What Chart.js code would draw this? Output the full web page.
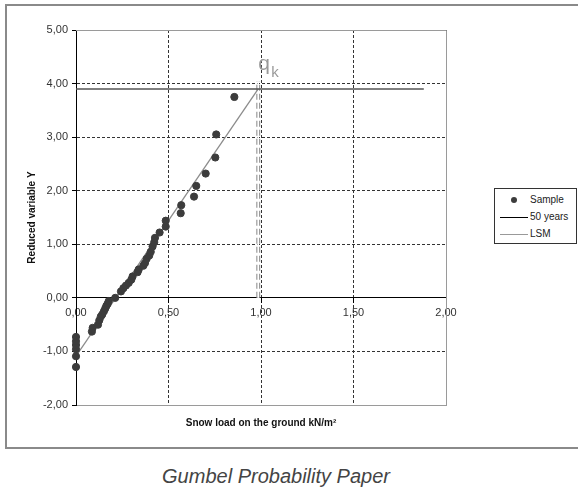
<!DOCTYPE html>
<html>
<head>
<meta charset="utf-8">
<script src="https://cdn.jsdelivr.net/npm/chart.js@4.4.1/dist/chart.umd.min.js"></script>
<style>
  body { margin: 0; background: #fff; font-family: "Liberation Sans", Arial, sans-serif; }
  #frame { position: absolute; left: 5px; top: 4px; width: 590px; height: 445px; border: 2px solid #8a8a8a; box-sizing: border-box; }
  #wrap { position: absolute; left: 0; top: 0; width: 578px; height: 450px; }
  #legend { position: absolute; left: 494px; top: 188px; width: 83px; height: 56px; border: 1px solid #333; box-sizing: border-box; background: #fff; font-size: 10px; color: #222; }
  .item { position: absolute; left: 0; height: 14px; line-height: 14px; }
  .item span.t { position: absolute; left: 35px; white-space: nowrap; }
  .dot { position: absolute; left: 16px; top: 4px; width: 6px; height: 6px; border-radius: 50%; background: #3c3c3c; }
  .ln { position: absolute; left: 5px; top: 7px; width: 28px; height: 0; border-top: 1px solid #000; }
  #caption { position: absolute; left: 0; top: 466px; width: 552px; text-align: center; font-style: italic; font-size: 20px; line-height: 20px; color: #444; }
</style>
</head>
<body>
<div id="frame"></div>
<div id="wrap"><canvas id="grafico" width="578" height="450"></canvas></div>
<div id="legend">
  <div class="item" style="top:4px"><div class="dot"></div><span class="t">Sample</span></div>
  <div class="item" style="top:21px"><div class="ln"></div><span class="t">50 years</span></div>
  <div class="item" style="top:38px"><div class="ln" style="border-top-color:#999"></div><span class="t">LSM</span></div>
</div>
<div id="caption">Gumbel Probability Paper</div>
<script>
// sample points
const sampleX = [0, 0, 0, 0, 0, 0,
  0.086, 0.090, 0.119, 0.126, 0.134, 0.142, 0.151, 0.158, 0.164, 0.171, 0.177,
  0.212, 0.243, 0.256, 0.270, 0.285, 0.299, 0.306, 0.333, 0.339, 0.364, 0.373,
  0.382, 0.396, 0.404, 0.414, 0.423, 0.427, 0.452, 0.485, 0.485, 0.566, 0.569,
  0.638, 0.650, 0.701, 0.753, 0.758, 0.856];
const sampleY = [-1.29, -1.09, -0.96, -0.88, -0.81, -0.73,
  -0.63, -0.56, -0.50, -0.42, -0.35, -0.31, -0.25, -0.20, -0.15, -0.11, -0.06,
  0.00, 0.12, 0.18, 0.23, 0.28, 0.34, 0.40, 0.48, 0.53, 0.60, 0.65,
  0.73, 0.79, 0.86, 0.96, 1.04, 1.12, 1.22, 1.33, 1.44, 1.58, 1.73,
  1.89, 2.09, 2.32, 2.62, 3.05, 3.75];

const anosX = [0, 1.88];      // 50 years line
const anosY = [3.90, 3.90];
const lsmX = [0, 0.985];      // least squares line
const lsmY = [-1.09, 3.90];
const qkX = [0.985, 0.985];   // characteristic value marker
const qkY = [0, 4.04];

const xTicks = [0, 0.5, 1, 1.5, 2];
const yTicks = [-2, -1, 0, 1, 2, 3, 4, 5];

const fonte = "'Liberation Sans', Arial, sans-serif";

function pares(xs, ys) {
  return xs.map((x, i) => ({ x: x, y: ys[i] }));
}
function virgula(v) {
  return Number(v).toFixed(2).replace(".", ",");
}

// gray frame of the plot area + qk label
const moldura = {
  id: "moldura",
  beforeDatasetsDraw(chart) {
    const a = chart.chartArea, ctx = chart.ctx;
    ctx.save();
    ctx.strokeStyle = "#9a9a9a";
    ctx.lineWidth = 1;
    ctx.beginPath();
    ctx.moveTo(a.left, a.top + 0.5);
    ctx.lineTo(a.right + 0.5, a.top + 0.5);
    ctx.lineTo(a.right + 0.5, a.bottom);
    ctx.stroke();
    ctx.restore();
  },
  afterDatasetsDraw(chart) {
    const ctx = chart.ctx;
    const px = chart.scales.x.getPixelForValue(qkX[1]);
    const py = chart.scales.y.getPixelForValue(qkY[1]);
    ctx.save();
    ctx.fillStyle = "#999";
    ctx.textBaseline = "alphabetic";
    ctx.font = "21px " + fonte;
    ctx.fillText("q", px, py - 11);
    ctx.font = "15px " + fonte;
    ctx.fillText("k", px + 13, py - 4);
    ctx.restore();
  }
};

const ctx = document.getElementById("grafico").getContext("2d");
new Chart(ctx, {
  type: "scatter",
  data: {
    datasets: [
      {
        label: "Sample",
        data: pares(sampleX, sampleY),
        backgroundColor: "#3c3c3c",
        borderColor: "#3c3c3c",
        pointRadius: 3.6,
        clip: false
      },
      {
        label: "50 years",
        data: pares(anosX, anosY),
        showLine: true,
        borderColor: "#555",
        borderWidth: 1.5,
        pointRadius: 0
      },
      {
        label: "LSM",
        data: pares(lsmX, lsmY),
        showLine: true,
        borderColor: "#8c8c8c",
        borderWidth: 1.3,
        pointRadius: 0
      },
      {
        label: "qk2",
        data: pares(qkX, qkY),
        showLine: true,
        borderColor: "#ffffff",
        borderWidth: 1.6,
        pointRadius: 0
      },
      {
        label: "qk",
        data: pares(qkX, qkY),
        showLine: true,
        borderColor: "#9a9a9a",
        borderWidth: 4,
        borderDash: [6, 3],
        pointRadius: 0
      }
    ]
  },
  options: {
    responsive: false,
    animation: false,
    layout: { padding: { top: 30, right: 132, left: 0, bottom: 0 } },
    plugins: { legend: { display: false }, tooltip: { enabled: false } },
    scales: {
      x: {
        type: "linear",
        position: "bottom",
        min: xTicks[0],
        max: xTicks[xTicks.length - 1],
        afterBuildTicks: s => { s.ticks = xTicks.map(v => ({ value: v })); },
        afterFit: s => { s.height = 45; },
        ticks: { display: false },
        grid: { color: "#333", drawTicks: false },
        border: { color: "#9a9a9a", dash: [3, 2] },
        title: {
          display: true,
          text: "Snow load on the ground kN/m²",
          font: { family: fonte, size: 10, weight: "bold" },
          color: "#111",
          padding: { top: 0, bottom: 21 }
        }
      },
      x0: {
        type: "linear",
        position: { y: 0 },
        min: xTicks[0],
        max: xTicks[xTicks.length - 1],
        afterBuildTicks: s => { s.ticks = xTicks.map(v => ({ value: v })); },
        ticks: {
          callback: v => virgula(v),
          font: { family: fonte, size: 11 },
          color: "#333",
          padding: 4,
          maxRotation: 0
        },
        grid: { drawOnChartArea: false, drawTicks: true, tickLength: 5, tickColor: "#000" },
        border: { color: "#000", width: 1 }
      },
      y: {
        type: "linear",
        position: "left",
        min: yTicks[0],
        max: yTicks[yTicks.length - 1],
        afterBuildTicks: s => { s.ticks = yTicks.map(v => ({ value: v })); },
        afterFit: s => { s.width = 76; },
        ticks: {
          callback: v => virgula(v),
          font: { family: fonte, size: 11 },
          color: "#333",
          padding: 4
        },
        grid: { color: "#333", tickLength: 4, tickColor: "#000" },
        border: { color: "#000", width: 1, dash: [3, 2] },
        title: {
          display: true,
          text: "Reduced variable Y",
          font: { family: fonte, size: 10, weight: "bold" },
          color: "#111",
          padding: { top: 26, bottom: 0 }
        }
      }
    }
  },
  plugins: [moldura]
});
</script>
</body>
</html>
